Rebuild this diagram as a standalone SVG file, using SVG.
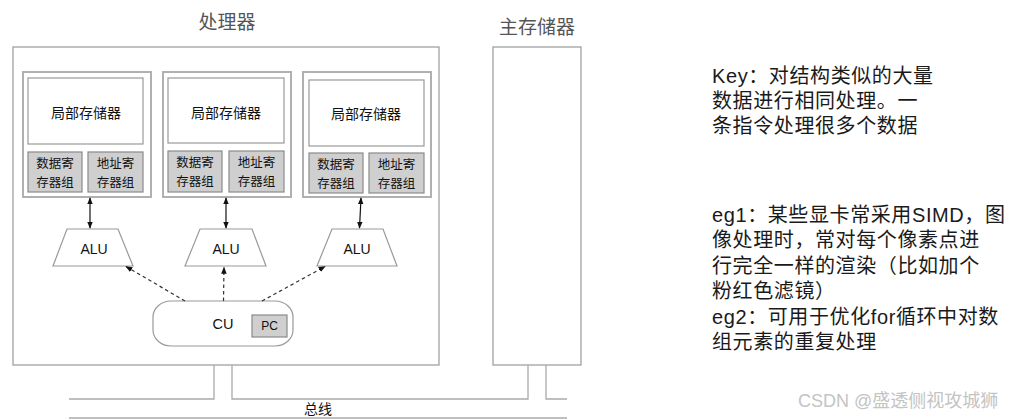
<svg xmlns="http://www.w3.org/2000/svg" width="1013" height="419" viewBox="0 0 1013 419">
<style>
.box{fill:#fff;stroke:#999;stroke-width:1.2}
.unit{fill:#fff;stroke:#b0b0b0;stroke-width:2}
.reg{fill:#cfcfcf;stroke:#8a8a8a;stroke-width:1.2}
.t{font-family:"Noto Sans CJK SC","Liberation Sans",sans-serif;fill:#111;text-anchor:middle}
.lat{font-family:"Liberation Sans","Noto Sans CJK SC",sans-serif;fill:#111;text-anchor:middle}
.title{font-family:"Noto Sans CJK SC",sans-serif;fill:#555;font-size:19px;text-anchor:middle}
.note{font-family:"Liberation Sans","Noto Sans CJK SC",sans-serif;fill:#1a1a1a;font-size:20px;letter-spacing:0.6px}
.solid{stroke:#111;stroke-width:1.2;fill:none}
.dash{stroke:#333;stroke-width:1.2;fill:none;stroke-dasharray:3.5 3}
.bus{stroke:#aaa;stroke-width:1.3;fill:none}
</style>
<defs>
<marker id="ah" viewBox="0 0 10 10" refX="9" refY="5" markerWidth="7" markerHeight="7" orient="auto-start-reverse" markerUnits="userSpaceOnUse">
<path d="M0,1 L10,5 L0,9 z" fill="#111"/>
</marker>
</defs>

<text class="title" x="227" y="29">处理器</text>
<text class="title" x="537" y="34">主存储器</text>

<g id="processor">
<rect class="box" x="13" y="47" width="426" height="318"/>
</g>

<g id="unit1">
<rect class="unit" x="23" y="72" width="128" height="125"/>
<rect class="box" x="28" y="78" width="115" height="66"/>
<text class="t" x="86" y="118" font-size="14">局部存储器</text>
<rect class="reg" x="28" y="152" width="54" height="40"/>
<text class="t" x="55" y="168" font-size="12.5">数据寄</text>
<text class="t" x="55" y="187" font-size="12.5">存器组</text>
<rect class="reg" x="88" y="152" width="55" height="40"/>
<text class="t" x="115.5" y="168" font-size="12.5">地址寄</text>
<text class="t" x="115.5" y="187" font-size="12.5">存器组</text>
</g>

<g id="unit2">
<rect class="unit" x="163" y="72" width="128" height="125"/>
<rect class="box" x="168" y="78" width="116" height="65"/>
<text class="t" x="226" y="118" font-size="14">局部存储器</text>
<rect class="reg" x="168" y="151" width="54" height="41"/>
<text class="t" x="195" y="167" font-size="12.5">数据寄</text>
<text class="t" x="195" y="186" font-size="12.5">存器组</text>
<rect class="reg" x="229" y="151" width="55" height="41"/>
<text class="t" x="256.5" y="167" font-size="12.5">地址寄</text>
<text class="t" x="256.5" y="186" font-size="12.5">存器组</text>
</g>

<g id="unit3">
<rect class="unit" x="303" y="72" width="128" height="125"/>
<rect class="box" x="309" y="80" width="115" height="66"/>
<text class="t" x="366" y="119" font-size="14">局部存储器</text>
<rect class="reg" x="309" y="153" width="54" height="40"/>
<text class="t" x="336" y="169" font-size="12.5">数据寄</text>
<text class="t" x="336" y="188" font-size="12.5">存器组</text>
<rect class="reg" x="369" y="153" width="55" height="40"/>
<text class="t" x="396.5" y="169" font-size="12.5">地址寄</text>
<text class="t" x="396.5" y="188" font-size="12.5">存器组</text>
</g>

<g id="alu1">
<polygon class="box" points="67,229 118,229 133,266 53,266"/>
<text class="lat" x="94" y="254" font-size="14">ALU</text>
</g>
<g id="alu2">
<polygon class="box" points="200,229 252,229 266,266 185,266"/>
<text class="lat" x="226" y="254" font-size="14">ALU</text>
</g>
<g id="alu3">
<polygon class="box" points="332,229 383,229 397,266 317,266"/>
<text class="lat" x="357" y="254" font-size="14">ALU</text>
</g>

<g id="cu">
<rect class="box" x="153" y="301" width="140" height="45" rx="18" ry="16"/>
<text class="lat" x="223" y="329" font-size="14.5">CU</text>
<rect class="reg" x="252" y="315" width="35" height="22"/>
<text class="lat" x="269.5" y="330" font-size="12">PC</text>
</g>

<g id="memory">
<rect class="box" x="493" y="47" width="88" height="318"/>
</g>

<g id="connectors">
<line class="solid" x1="90" y1="198" x2="90" y2="228" marker-start="url(#ah)" marker-end="url(#ah)"/>
<line class="solid" x1="226" y1="198" x2="226" y2="228" marker-start="url(#ah)" marker-end="url(#ah)"/>
<line class="solid" x1="361" y1="198" x2="359.5" y2="228" marker-start="url(#ah)" marker-end="url(#ah)"/>
<line class="dash" x1="185" y1="301" x2="126" y2="266.5" marker-end="url(#ah)"/>
<line class="dash" x1="223.5" y1="301" x2="224" y2="267.5" marker-end="url(#ah)"/>
<line class="dash" x1="262" y1="301" x2="325" y2="266.5" marker-end="url(#ah)"/>
<path class="bus" d="M214,365 V399 H69 M232,365 V399 H528 V365 M546,365 V399 H567 M69,418 H567"/>
</g>
<text class="t" x="318" y="414" font-size="14">总线</text>

<g id="notes">
<text class="note" x="712" y="83">Key：对结构类似的大量</text>
<text class="note" x="712" y="108">数据进行相同处理。一</text>
<text class="note" x="712" y="133">条指令处理很多个数据</text>
<text class="note" x="712" y="222">eg1：某些显卡常采用SIMD，图</text>
<text class="note" x="712" y="247">像处理时，常对每个像素点进</text>
<text class="note" x="712" y="273">行完全一样的渲染（比如加个</text>
<text class="note" x="712" y="298">粉红色滤镜）</text>
<text class="note" x="712" y="324">eg2：可用于优化for循环中对数</text>
<text class="note" x="712" y="349">组元素的重复处理</text>
</g>
<text x="798" y="407" font-family="Liberation Sans, Noto Sans CJK SC, sans-serif" font-size="18" fill="#c4c4c4">CSDN @盛透侧视攻城狮</text>
</svg>
